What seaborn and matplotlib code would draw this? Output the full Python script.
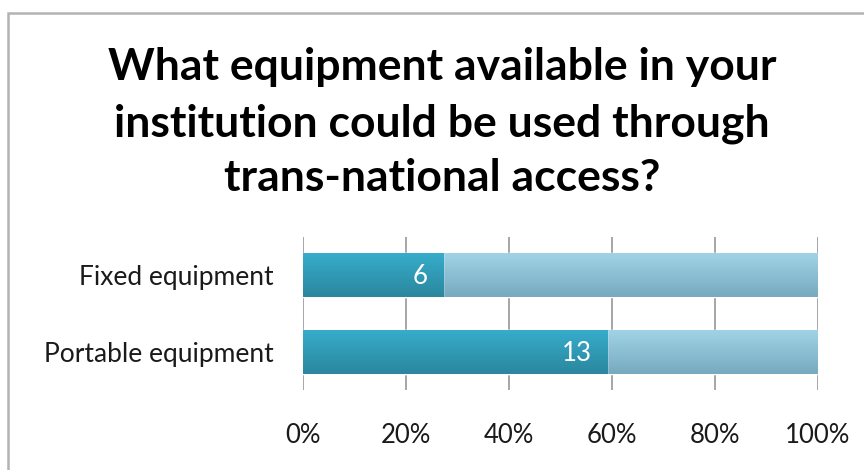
import numpy as np
import pandas as pd
import matplotlib
matplotlib.use("Agg")
import matplotlib.pyplot as plt
from matplotlib.patches import Rectangle
from matplotlib.colors import LinearSegmentedColormap
import seaborn as sns

# Survey answers per equipment type
categories = ["Fixed equipment", "Portable equipment"]
available = [6, 13]
not_available = [16, 9]
tick_labels = ["0%", "20%", "40%", "60%", "80%", "100%"]
title_lines = ["What equipment available in your",
               "institution could be used through",
               "trans-national access?"]

df = pd.DataFrame({"category": categories,
                   "available": available,
                   "not_available": not_available})
df["total"] = df["available"] + df["not_available"]
df["pct_available"] = df["available"] / df["total"] * 100
df["pct_total"] = 100.0

sns.set_theme(style="white")
plt.rcParams["font.family"] = ["Lato", "DejaVu Sans"]

fig = plt.figure(figsize=(8.64, 4.70), dpi=100)
W, H = 864, 470

# Outer chart frame
fig.patches.append(Rectangle((8 / W, -0.05), 1.2, (H - 12.5) / H + 0.05,
                             transform=fig.transFigure, fill=False,
                             edgecolor="#b3b3b3", linewidth=1.8))

ax = fig.add_axes([303 / W, 1 - 390 / H, (818 - 303) / W, (390 - 237) / H])

dark = "#319fbb"
light = "#8fc7da"
bar_w = 0.57

sns.barplot(data=df, x="pct_total", y="category", orient="h", color=light,
            width=bar_w, saturation=1, ax=ax, zorder=3)
sns.barplot(data=df, x="pct_available", y="category", orient="h", color=dark,
            width=bar_w, saturation=1, ax=ax, zorder=4)

# Vertical shading on each bar segment: lighter at the top, darker below
shades = {
    dark: LinearSegmentedColormap.from_list("d", ["#37accb", "#2a879e"]),
    light: LinearSegmentedColormap.from_list("l", ["#9fd3e5", "#77aabf"]),
}
grad = np.linspace(0, 1, 64).reshape(-1, 1)
n = len(categories)
for i, p in enumerate(ax.patches):
    key = light if i < n else dark
    x0, y0 = p.get_x(), p.get_y()
    w, h = p.get_width(), p.get_height()
    im = ax.imshow(grad, cmap=shades[key], aspect="auto", origin="upper",
                   extent=[x0, x0 + w, y0 + h, y0], zorder=p.get_zorder() + 0.5,
                   interpolation="bilinear")
    im.set_clip_path(p)

ax.set_xlim(0, 100)
ax.set_ylim(1.5, -0.5)
ax.set_xticks(np.arange(0, 101, 20))
ax.set_xticklabels(tick_labels)
ax.set_xlabel("")
ax.set_ylabel("")
ax.grid(False)
for x in np.arange(0, 101, 20):
    ax.axvline(x, color="#a6a6a6", linewidth=1.4, zorder=1)
for s in ax.spines.values():
    s.set_visible(False)
ax.tick_params(axis="x", length=0, pad=24, labelsize=18.5, labelcolor="#1a1a1a")
ax.tick_params(axis="y", length=0, pad=21, labelsize=19, labelcolor="#1a1a1a")

# Value labels inside the dark segments
for i, (v, pct) in enumerate(zip(df["available"], df["pct_available"])):
    ax.text(pct - 3.0, i + 0.02, str(v), ha="right", va="center", color="white",
            fontsize=18.5, zorder=10)

# Title, centred over the chart frame
for line, yb in zip(title_lines, [80, 136, 191]):
    fig.text(442 / W, 1 - yb / H, line, ha="center", va="baseline",
             fontsize=32, fontweight="bold", color="black")

fig.savefig("out.png", dpi=100)
